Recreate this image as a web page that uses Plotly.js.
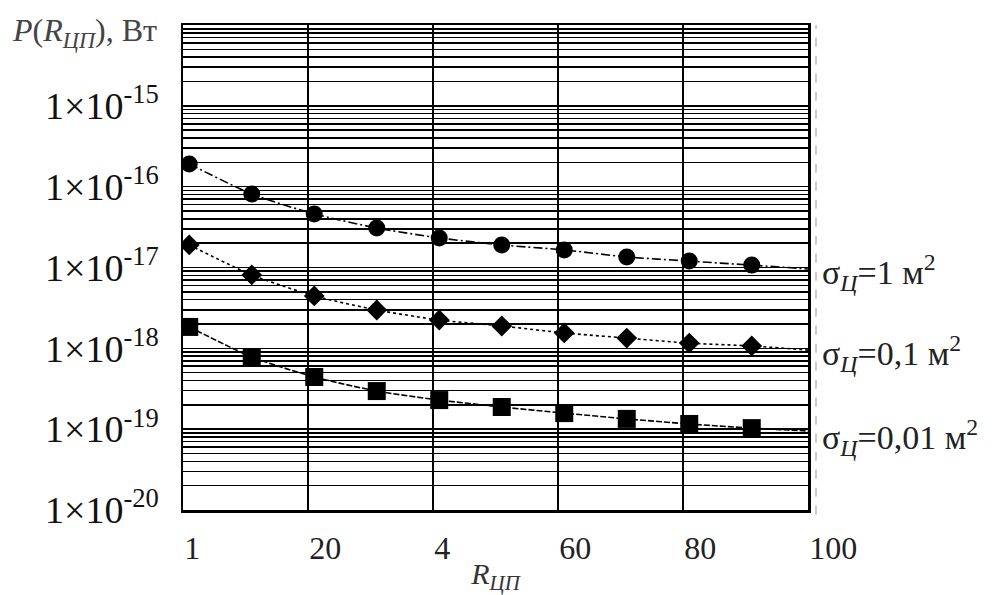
<!DOCTYPE html>
<html>
<head>
<meta charset="utf-8">
<script src="https://cdn.plot.ly/plotly-3.0.1.min.js"></script>
<style>html,body{margin:0;padding:0;background:#fff;}#chart{width:992px;height:595px;}</style>
</head>
<body>
<div id="chart"></div>
<script>
// Distance values (markers every 10 units) and end of curves
const rMarkers = [1, 11, 21, 31, 41, 51, 61, 71, 81, 91];
const rLine = [1, 11, 21, 31, 41, 51, 61, 71, 81, 91, 100];

// Received power, W, last value = curve end at R=100
const pSigma1 = [1.91e-16, 8.1e-17, 4.6e-17, 3.08e-17, 2.32e-17, 1.9e-17, 1.65e-17, 1.35e-17, 1.2e-17, 1.07e-17, 9.6e-18];
const pSigma01 = [1.9e-17, 8.1e-18, 4.45e-18, 2.98e-18, 2.24e-18, 1.89e-18, 1.55e-18, 1.34e-18, 1.16e-18, 1.07e-18, 9.5e-19];
const pSigma001 = [1.84e-18, 7.8e-19, 4.42e-19, 2.96e-19, 2.29e-19, 1.88e-19, 1.58e-19, 1.34e-19, 1.16e-19, 1.03e-19, 9.5e-20];

const seriesLabels = ["σ<sub><i>Ц</i></sub>=1 м<sup>2</sup>", "σ<sub><i>Ц</i></sub>=0,1 м<sup>2</sup>", "σ<sub><i>Ц</i></sub>=0,01 м<sup>2</sup>"];

// Axis ticks
const xTickVals = [0, 20, 40, 60, 80, 100];
const xTickText = ["1", "20", "4", "60", "80", "100"];
const yLabeledDecades = [-20, -19, -18, -17, -16, -15];
const yGridDecades = [-20, -19, -18, -17, -16, -15];
const yMantissas = [2, 3, 4, 5, 6, 7, 8, 9];

const yTickVals = yLabeledDecades.map(d => Math.pow(10, d));
const yTickText = yLabeledDecades.map(d => "1×10<sup>" + d + "</sup>");
const yMinorVals = [];
yGridDecades.forEach(d => yMantissas.forEach(m => yMinorVals.push(m * Math.pow(10, d))));

const serif = "'Liberation Serif', 'Times New Roman', Times, serif";

function lineTrace(y, dash) {
  return {x: rLine, y: y, mode: "lines", type: "scatter", line: {color: "#000", width: 1.6, dash: dash, shape: "spline", smoothing: 0.6}, showlegend: false, hoverinfo: "skip"};
}
function markerTrace(y, symbol, size, name) {
  return {x: rMarkers, y: y.slice(0, rMarkers.length), mode: "markers", type: "scatter", name: name, marker: {color: "#000", symbol: symbol, size: size}, showlegend: false};
}

const data = [
  lineTrace(pSigma1, "9px,3px,2px,3px"),
  lineTrace(pSigma01, "dot"),
  lineTrace(pSigma001, "6px,2px"),
  markerTrace(pSigma1, "circle", 17, seriesLabels[0]),
  markerTrace(pSigma01, "diamond", 16, seriesLabels[1]),
  markerTrace(pSigma001, "square", 18, seriesLabels[2])
];

function legendAnn(text, yPaper) {
  return {text: text, xref: "paper", yref: "paper", x: 1.019, y: yPaper, xanchor: "left", yanchor: "middle", showarrow: false, font: {family: serif, size: 34, color: "#222"}};
}

const layout = {
  width: 992, height: 595,
  margin: {l: 183, r: 184, t: 25, b: 85},
  paper_bgcolor: "#fff", plot_bgcolor: "#fff",
  xaxis: {
    range: [0, 100], tickmode: "array", tickvals: xTickVals, ticktext: xTickText,
    showgrid: true, gridcolor: "#000", gridwidth: 1.6,
    showline: true, mirror: true, linecolor: "#000", linewidth: 2.5,
    zeroline: false, ticks: "", ticklabelposition: "outside right", ticklabelstandoff: 8,
    tickfont: {family: serif, size: 32, color: "#222"},
    title: {text: "<i>R</i><sub><i>ЦП</i></sub>", font: {family: serif, size: 30, color: "#333"}, standoff: 4}
  },
  yaxis: {
    type: "log", range: [-20, -14], tickmode: "array", tickvals: yTickVals, ticktext: yTickText,
    showgrid: true, gridcolor: "#000", gridwidth: 1.6,
    minor: {tickmode: "array", tickvals: yMinorVals, showgrid: true, gridcolor: "#000", gridwidth: 1.6, ticks: ""},
    showline: true, mirror: true, linecolor: "#000", linewidth: 2.5,
    zeroline: false, ticks: "", ticklabelstandoff: 14,
    tickfont: {family: serif, size: 38, color: "#111"}
  },
  annotations: [
    {text: "<i>P</i>(<i>R</i><sub><i>ЦП</i></sub>), Вт", xref: "paper", yref: "paper", x: -0.277, y: 0.984, xanchor: "left", yanchor: "middle", showarrow: false, font: {family: serif, size: 32, color: "#444"}},
    legendAnn(seriesLabels[0], 0.49),
    legendAnn(seriesLabels[1], 0.323),
    legendAnn(seriesLabels[2], 0.15)
  ],
  shapes: [
    {type: "line", xref: "paper", yref: "paper", x0: 1.0128, x1: 1.0128, y0: -0.01, y1: 1, line: {color: "#bbb", width: 1.5, dash: "dash"}}
  ]
};

Plotly.newPlot("chart", data, layout, {staticPlot: true, displayModeBar: false});
</script>
</body>
</html>
